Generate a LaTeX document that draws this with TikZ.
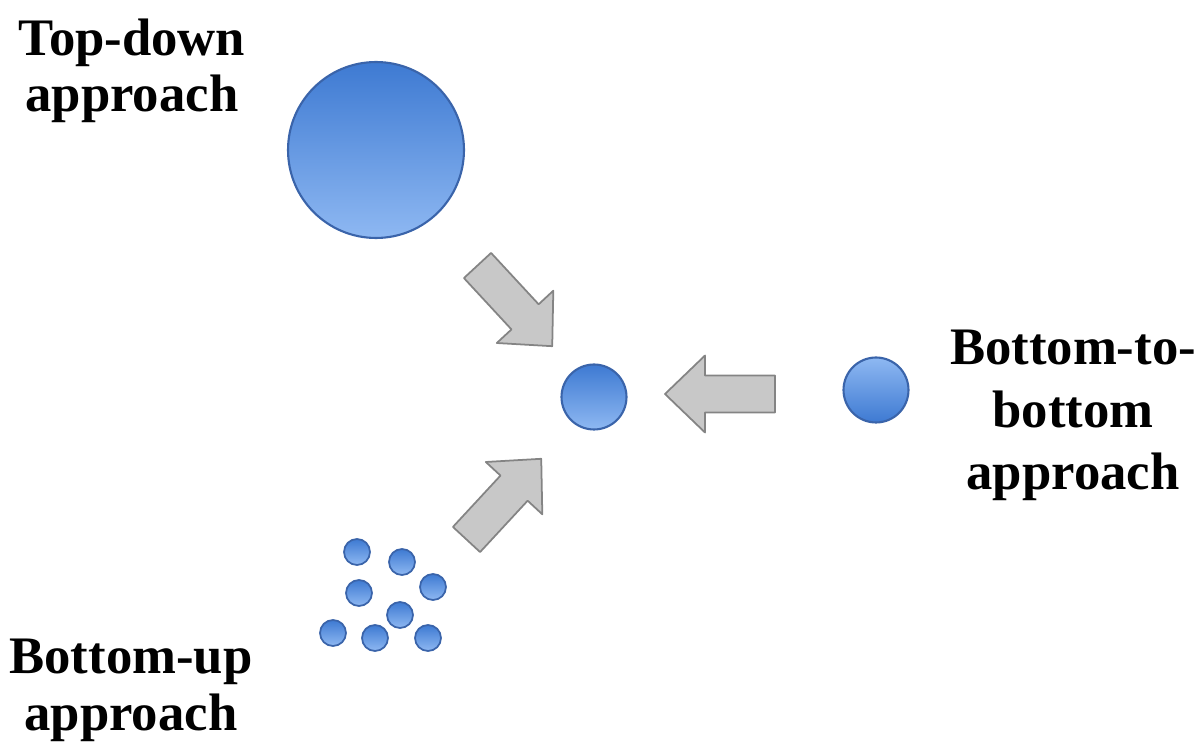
\documentclass[tikz,border=0pt]{standalone}
\usepackage{fontspec}
\setmainfont{Liberation Serif}
\usetikzlibrary{calc}

\definecolor{ballrim}{RGB}{58,100,170}
\definecolor{balldark}{RGB}{62,122,210}
\definecolor{balllight}{RGB}{142,184,242}
\definecolor{arrowfill}{RGB}{200,200,200}
\definecolor{arrowrim}{RGB}{132,132,132}

\tikzset{
  ball/.style={circle,draw=ballrim,line width=1.2pt,inner sep=0pt,
    top color=balldark,bottom color=balllight},
  flipball/.style={ball,top color=balllight,bottom color=balldark},
  label/.style={font=\fontsize{30}{32.4}\selectfont\bfseries,align=center,anchor=base},
  arrowbody/.style={fill=arrowfill,draw=arrowrim,line width=1pt,line join=round},
  blockarrow/.pic={
    \draw[arrowbody] (0,-18.5) -- (70,-18.5) -- (70,-38.5) -- (110,0)
      -- (70,38.5) -- (70,18.5) -- (0,18.5) -- cycle;
  }
}

\begin{document}
\begin{tikzpicture}[x=0.02cm,y=0.02cm]
  \useasboundingbox (0,0) rectangle (1201,-746);
  % balls
  \node[ball,minimum size=3.52cm] (big) at (376,-150) {};
  \node[ball,minimum size=1.3cm] (core) at (594,-397) {};
  \node[flipball,minimum size=1.3cm] (side) at (876,-390) {};
  \foreach \x/\y [count=\i] in {357/552,402/562,433/587,359/593,400/615,333/633,375/638,428/638}
    \node[ball,minimum size=0.52cm,line width=1pt] (dot\i) at (\x,-\y) {};
  % arrows
  \pic[rotate=-47.2] at (477.5,-265.5) {blockarrow};
  \pic[rotate=47.2] at (466.5,-539.5) {blockarrow};
  \pic[rotate=180] at (775,-394) {blockarrow};
  % labels (anchored at the baseline of the last line)
  \node[label] (toplbl) at (132,-112) {Top-down\\approach};
  \node[label,font=\fontsize{30}{35.8}\selectfont\bfseries] (sidelbl) at (1073,-490) {Bottom-to-\\bottom\\approach};
  \node[label] (uplbl) at (131,-730) {Bottom-up\\approach};
\end{tikzpicture}
\end{document}
